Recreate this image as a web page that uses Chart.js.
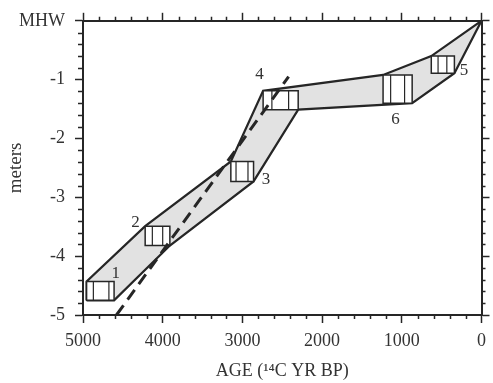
<!DOCTYPE html>
<html>
<head>
<meta charset="utf-8">
<script src="https://cdn.jsdelivr.net/npm/chart.js@4.4.1/dist/chart.umd.min.js"></script>
<style>
  html, body { margin: 0; padding: 0; background: #fff; }
  #wrap { width: 493px; height: 383px; }
</style>
</head>
<body>
<div id="wrap"><canvas id="chart"></canvas></div>
<script>
// sample boxes, numbered as on the figure (age in 14C yr BP, depth in m below MHW)
const sampleIds = ['1', '2', '3', '4', '5', '6'];
const ageOld = [4955, 4220, 3145, 2740, 630, 1235];
const ageYoung = [4610, 3910, 2860, 2300, 340, 870];
const ageInnerOld = [4870, 4130, 3080, 2630, 545, 1140];
const ageInnerYoung = [4675, 4000, 2930, 2420, 435, 965];
const depthTop = [-4.43, -3.49, -2.39, -1.19, -0.60, -0.92];
const depthBottom = [-4.75, -3.82, -2.73, -1.51, -0.89, -1.40];

// where the sample numbers sit
const labelAge = [4590, 4340, 2705, 2785, 220, 1080];
const labelDepth = [-4.29, -3.42, -2.70, -0.91, -0.85, -1.67];

// envelope closes at present-day MHW
const apexAge = 0;
const apexDepth = 0;

// dashed trend line
const trendAge = [4580, 2420];
const trendDepth = [-5, -0.95];

// axis ticks
const ageTicks = [5000, 4000, 3000, 2000, 1000, 0];
const depthTicks = [-5, -4, -3, -2, -1, 0];

const ink = '#262626';
const shade = '#e2e2e2';

Chart.defaults.font.family = '"Liberation Serif", "Times New Roman", serif';
Chart.defaults.font.size = 18;
Chart.defaults.color = '#333';

// envelope: top-left corners going young, apex, bottom-right corners going old
const order = sampleIds.map((_, i) => i).sort((a, b) => ageOld[b] - ageOld[a]);
const envelope = [{ x: ageOld[order[0]], y: depthBottom[order[0]] }];
order.forEach(i => envelope.push({ x: ageOld[i], y: depthTop[i] }));
envelope.push({ x: apexAge, y: apexDepth });
order.slice().reverse().forEach(i => envelope.push({ x: ageYoung[i], y: depthBottom[i] }));
envelope.push(envelope[0]);

const boxSets = sampleIds.map((id, i) => ({
    label: 'sample ' + id,
    data: [
        { x: ageOld[i], y: depthTop[i] },
        { x: ageYoung[i], y: depthTop[i] },
        { x: ageYoung[i], y: depthBottom[i] },
        { x: ageOld[i], y: depthBottom[i] },
        { x: ageOld[i], y: depthTop[i] }
    ],
    borderColor: ink,
    borderWidth: 1.5,
    backgroundColor: '#fff',
    fill: 'shape',
    pointRadius: 0,
    order: 2
}));

const innerLines = [];
sampleIds.forEach((_, i) => {
    [ageInnerOld[i], ageInnerYoung[i]].forEach(a => {
        innerLines.push({ x: a, y: depthTop[i] }, { x: a, y: depthBottom[i] }, { x: a, y: null });
    });
});

// minor ticks and sample numbers
const overlay = {
    id: 'overlay',
    afterDraw(chart) {
        const { ctx, chartArea: a, scales: { x, y } } = chart;
        ctx.save();
        ctx.strokeStyle = ink;
        ctx.lineWidth = 1.5;
        ctx.beginPath();
        for (let v = 200; v < 5000; v += 200) {
            if (v % 1000 === 0) continue;
            const px = Math.round(x.getPixelForValue(v)) + 0.5;
            ctx.moveTo(px, a.bottom); ctx.lineTo(px, a.bottom + 4);
            ctx.moveTo(px, a.top); ctx.lineTo(px, a.top - 4);
        }
        for (let i = 1; i < 25; i++) {
            if (i % 5 === 0) continue;
            const py = Math.round(y.getPixelForValue(-i * 0.2)) + 0.5;
            ctx.moveTo(a.left, py); ctx.lineTo(a.left - 5, py);
            ctx.moveTo(a.right, py); ctx.lineTo(a.right + 4, py);
        }
        ctx.stroke();

        ctx.fillStyle = '#333';
        ctx.font = '17px "Liberation Serif", serif';
        ctx.textAlign = 'center';
        ctx.textBaseline = 'middle';
        sampleIds.forEach((id, i) => {
            ctx.fillText(id, x.getPixelForValue(labelAge[i]), y.getPixelForValue(labelDepth[i]));
        });
        ctx.restore();
    }
};

const axisGrid = { drawOnChartArea: false, tickLength: 8, tickWidth: 1.5, tickColor: ink };
const axisBorder = { color: ink, width: 2 };

new Chart(document.getElementById('chart'), {
    type: 'line',
    data: {
        datasets: [
            {
                label: 'trend',
                data: trendAge.map((a, i) => ({ x: a, y: trendDepth[i] })),
                borderColor: ink,
                borderWidth: 3,
                borderDash: [12, 7],
                pointRadius: 0,
                fill: false,
                order: 0
            },
            {
                label: 'inner',
                data: innerLines,
                borderColor: ink,
                borderWidth: 1.2,
                pointRadius: 0,
                spanGaps: false,
                fill: false,
                order: 1
            },
            ...boxSets,
            {
                label: 'envelope',
                data: envelope,
                borderColor: ink,
                borderWidth: 2.2,
                backgroundColor: shade,
                fill: 'shape',
                pointRadius: 0,
                order: 3
            }
        ]
    },
    options: {
        responsive: true,
        maintainAspectRatio: false,
        animation: false,
        events: [],
        layout: { padding: 0 },
        plugins: {
            legend: { display: false },
            tooltip: { enabled: false }
        },
        scales: {
            x: {
                type: 'linear',
                position: 'bottom',
                reverse: true,
                min: 0,
                max: 5000,
                afterBuildTicks: s => { s.ticks = ageTicks.map(v => ({ value: v })); },
                afterFit: s => { s.height = 68; },
                ticks: { padding: 7, maxRotation: 0, callback: v => String(v) },
                grid: axisGrid,
                border: axisBorder,
                title: {
                    display: true,
                    text: 'AGE (¹⁴C YR BP)',
                    font: { size: 18 },
                    padding: { top: 0, bottom: 1 }
                }
            },
            xTop: {
                type: 'linear',
                position: 'top',
                reverse: true,
                min: 0,
                max: 5000,
                afterBuildTicks: s => { s.ticks = ageTicks.map(v => ({ value: v })); },
                afterFit: s => { s.height = 16; },
                ticks: { display: false },
                grid: axisGrid,
                border: axisBorder
            },
            y: {
                type: 'linear',
                position: 'left',
                min: -5,
                max: 0,
                afterBuildTicks: s => { s.ticks = depthTicks.map(v => ({ value: v })); },
                afterFit: s => { s.width = 83; },
                ticks: {
                    padding: 10,
                    callback: v => (v === 0 ? 'MHW' : String(v))
                },
                grid: axisGrid,
                border: axisBorder,
                title: {
                    display: true,
                    text: 'meters',
                    font: { size: 19 },
                    padding: { top: 5, bottom: 0 }
                }
            },
            yRight: {
                type: 'linear',
                position: 'right',
                min: -5,
                max: 0,
                afterBuildTicks: s => { s.ticks = depthTicks.map(v => ({ value: v })); },
                afterFit: s => { s.width = 8; },
                ticks: { display: false },
                grid: axisGrid,
                border: axisBorder
            }
        }
    },
    plugins: [overlay]
});
</script>
</body>
</html>
